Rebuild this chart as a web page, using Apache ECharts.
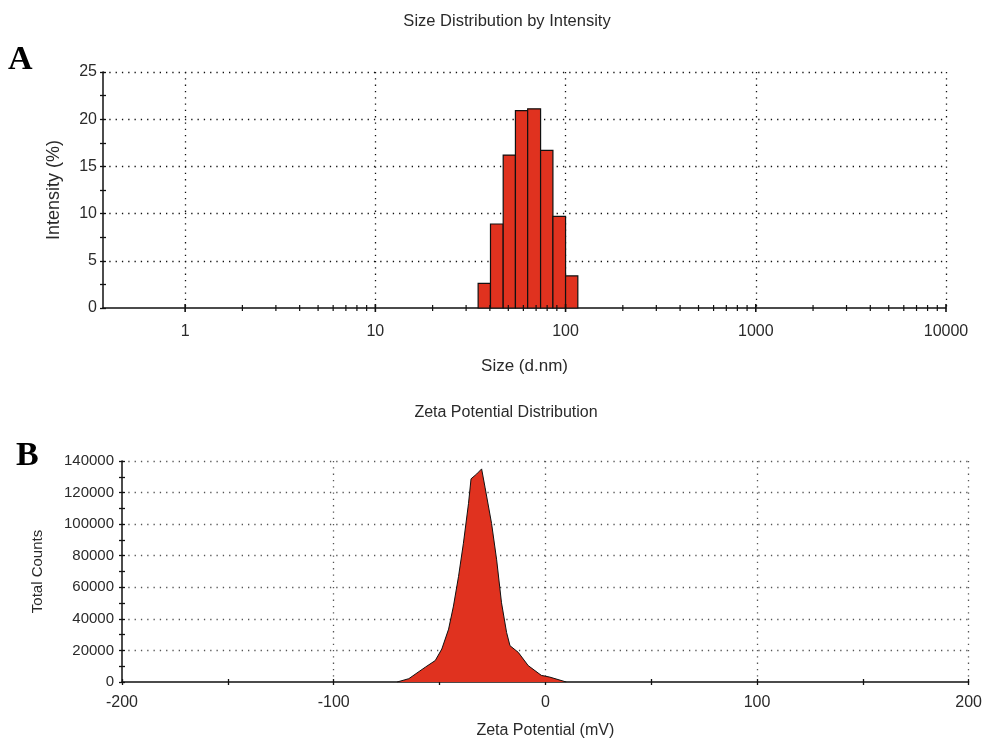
<!DOCTYPE html>
<html>
<head>
<meta charset="utf-8">
<script src="https://cdn.jsdelivr.net/npm/echarts@6/dist/echarts.min.js"></script>
<style>
  html, body { margin: 0; padding: 0; background: #fff; }
  #main { width: 985px; height: 740px; }
</style>
</head>
<body>
<div id="main"></div>
<script>
// A: size distribution (bins, d.nm)
const sizeBinEdges = [34.7, 40.3, 47.0, 54.5, 63.2, 73.9, 85.8, 100, 116];
const sizeIntensity = [2.6, 8.9, 16.2, 20.9, 21.1, 16.7, 9.7, 3.4];
const sizeDecades = [1, 10, 100, 1000, 10000];
const sizeMinorSteps = [2, 3, 4, 5, 6, 7, 8, 9];

// B: zeta potential distribution
const zetaMv = [-70, -64.5, -56.7, -52, -48.9, -45.7, -43.4, -41.0, -38.7, -36.3, -35.1, -32.4,
  -30.1, -28.5, -25.4, -23.0, -20.7, -18.3, -16.7, -12.8, -8.1, -1.9, 2.1, 9.9];
const zetaCounts = [0, 2100, 9400, 13600, 20900, 33500, 48100, 66900, 87900, 113000, 128700, 131800,
  135000, 123400, 100400, 77400, 50200, 31400, 23000, 18800, 10400, 4200, 3100, 0];

const FONT = "'Liberation Sans', Arial, sans-serif";
const RED = '#e0321f';
const TXT = '#2a2a2a';

let bars = sizeIntensity.map((v, i) => [sizeBinEdges[i], sizeBinEdges[i + 1], v]);

// tick marks for the log axis (decades and 2..9 in between)
let logTicks = [];
sizeDecades.forEach((d, i) => {
  logTicks.push([d, 0, 1]);
  if (i < sizeDecades.length - 1) {
    sizeMinorSteps.forEach(s => logTicks.push([d * s, 0, 0]));
  }
});

let zetaData = zetaMv.map((x, i) => [x, zetaCounts[i]]);

const chart = echarts.init(document.getElementById('main'));

const dots = (c) => ({ show: true, lineStyle: { color: c, width: 1.3, type: [1.3, 5] } });
const tickStyle = { color: '#111', width: 1.3 };

// second axis on the same side, only for the inner half of the cross ticks
const innerTicks = (extra) => Object.assign({
  type: 'value', offset: 0,
  axisLine: { show: false, onZero: false },
  axisTick: { show: true, inside: true, length: 3, lineStyle: tickStyle },
  minorTick: { show: true, splitNumber: 2, length: 3, lineStyle: tickStyle },
  axisLabel: { show: false },
  splitLine: { show: false }
}, extra);

let option = {
  animation: false,
  textStyle: { fontFamily: FONT, color: TXT },
  title: [
    { text: 'Size Distribution by Intensity', left: 502, top: 8, textAlign: 'center',
      textStyle: { fontFamily: FONT, fontSize: 16.5, fontWeight: 'normal', color: TXT } },
    { text: 'Zeta Potential Distribution', left: 501, top: 400, textAlign: 'center',
      textStyle: { fontFamily: FONT, fontSize: 16, fontWeight: 'normal', color: TXT } },
    { text: 'A', left: 3, top: 38,
      textStyle: { fontFamily: "'Liberation Serif', 'DejaVu Serif', serif", fontSize: 34, fontWeight: 'bold', color: '#000' } },
    { text: 'B', left: 11, top: 434,
      textStyle: { fontFamily: "'Liberation Serif', 'DejaVu Serif', serif", fontSize: 34, fontWeight: 'bold', color: '#000' } }
  ],
  grid: [
    { left: 103, top: 72, width: 843, height: 236 },
    { left: 122, top: 461, width: 851, height: 223 }
  ],
  xAxis: [
    {
      gridIndex: 0, type: 'log', logBase: 10, min: 0.37, max: 10000,
      name: 'Size (d.nm)', nameLocation: 'middle', nameGap: 50,
      nameTextStyle: { fontSize: 17, color: TXT },
      axisLine: { onZero: false, lineStyle: { color: '#111', width: 1.5 } },
      axisTick: { show: false },
      axisLabel: {
        fontSize: 16, color: TXT, margin: 16,
        formatter: v => sizeDecades.some(d => Math.abs(d - v) < 1e-6 * d) ? String(Math.round(v)) : ''
      },
      splitLine: Object.assign(dots('#111'), { showMinLine: false })
    },
    {
      gridIndex: 1, type: 'value', min: -200, max: 200, interval: 100,
      name: 'Zeta Potential (mV)', nameLocation: 'middle', nameGap: 41,
      nameTextStyle: { fontSize: 16, color: TXT },
      axisLine: { onZero: false, lineStyle: { color: '#111', width: 1.5 } },
      axisTick: { show: true, length: 3, lineStyle: tickStyle },
      minorTick: { show: true, splitNumber: 2, length: 3, lineStyle: tickStyle },
      axisLabel: { fontSize: 16, color: TXT, margin: 13 },
      splitLine: Object.assign(dots('#555'), { showMinLine: false })
    },
    innerTicks({ gridIndex: 1, min: -200, max: 200, interval: 100, position: 'bottom' })
  ],
  yAxis: [
    {
      gridIndex: 0, type: 'value', min: 0, max: 25, interval: 5,
      name: 'Intensity (%)', nameLocation: 'middle', nameGap: 40,
      nameTextStyle: { fontSize: 18, color: TXT },
      axisLine: { show: true, onZero: false, lineStyle: { color: '#111', width: 1.5 } },
      axisTick: { show: true, length: 3, lineStyle: tickStyle },
      minorTick: { show: true, splitNumber: 2, length: 3, lineStyle: tickStyle },
      axisLabel: { fontSize: 16, color: TXT, margin: 6 },
      splitLine: Object.assign(dots('#111'), { showMinLine: false })
    },
    innerTicks({ gridIndex: 0, min: 0, max: 25, interval: 5, position: 'left' }),
    {
      gridIndex: 1, type: 'value', min: 0, max: 140000, interval: 20000,
      name: 'Total Counts', nameLocation: 'middle', nameGap: 77,
      nameTextStyle: { fontSize: 15, color: TXT },
      axisLine: { show: true, onZero: false, lineStyle: { color: '#111', width: 1.5 } },
      axisTick: { show: true, length: 3, lineStyle: tickStyle },
      minorTick: { show: true, splitNumber: 2, length: 3, lineStyle: tickStyle },
      axisLabel: { fontSize: 15, color: TXT, margin: 8, formatter: v => String(v) },
      splitLine: Object.assign(dots('#555'), { showMinLine: false })
    },
    innerTicks({ gridIndex: 1, min: 0, max: 140000, interval: 20000, position: 'left' })
  ],
  series: [
    {
      name: 'Intensity',
      type: 'custom',
      xAxisIndex: 0, yAxisIndex: 0,
      encode: { x: [0, 1], y: 2 },
      data: bars,
      renderItem: (params, api) => {
        const p0 = api.coord([api.value(0), 0]);
        const p1 = api.coord([api.value(1), api.value(2)]);
        return {
          type: 'rect',
          shape: { x: p0[0], y: p1[1], width: p1[0] - p0[0], height: p0[1] - p1[1] },
          style: { fill: RED, stroke: '#111', lineWidth: 1.2 }
        };
      },
      z: 3
    },
    {
      name: 'logTicks',
      type: 'custom',
      xAxisIndex: 0, yAxisIndex: 0,
      encode: { x: 0, y: 1 },
      data: logTicks,
      clip: false,
      silent: true,
      renderItem: (params, api) => {
        const p = api.coord([api.value(0), 0]);
        const h = api.value(2) ? 4 : 3;
        return {
          type: 'line',
          shape: { x1: p[0], y1: p[1] - h, x2: p[0], y2: p[1] + h },
          style: { stroke: '#111', lineWidth: api.value(2) ? 1.6 : 1.2 }
        };
      },
      z: 4
    },
    {
      name: 'Total Counts',
      type: 'line',
      xAxisIndex: 1, yAxisIndex: 2,
      data: zetaData,
      showSymbol: false,
      lineStyle: { color: '#111', width: 1 },
      areaStyle: { color: RED, opacity: 1 },
      z: 3
    }
  ]
};

chart.setOption(option);
</script>
</body>
</html>
